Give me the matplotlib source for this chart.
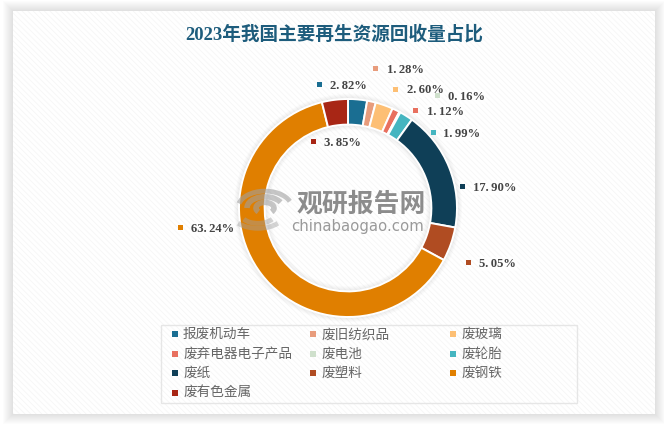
import matplotlib
matplotlib.use("Agg")
import matplotlib.pyplot as plt
from matplotlib.patches import Rectangle, Arc, Wedge

CJK = ["Noto Sans CJK SC", "DejaVu Sans"]
SERIF = ["Liberation Serif", "Noto Sans CJK SC"]

# Data
categories = ["报废机动车", "废旧纺织品", "废玻璃", "废弃电器电子产品", "废电池",
              "废轮胎", "废纸", "废塑料", "废钢铁", "废有色金属"]
values = [2.82, 1.28, 2.60, 1.12, 0.16, 1.99, 17.90, 5.05, 63.24, 3.85]
value_labels = ["2.82%", "1.28%", "2.60%", "1.12%", "0.16%",
                "1.99%", "17.90%", "5.05%", "63.24%", "3.85%"]
colors = ["#1a6e92", "#e89c7c", "#fdbf74", "#e8705f", "#cfe0cc",
          "#45b5c0", "#0f3f57", "#b04c22", "#e07f00", "#a82615"]

W, H = 664, 425
fig = plt.figure(figsize=(W / 100, H / 100), dpi=100, facecolor="white")

# Background layer, in pixel coordinates
bg = fig.add_axes([0, 0, 1, 1])
bg.set_xlim(0, W)
bg.set_ylim(H, 0)
bg.axis("off")

# Card shadow
for i in range(10, 0, -1):
    bg.add_patch(Rectangle((13 - i, 11 - i), 642 + 2 * i, 403 + 2 * i,
                           fc="#000000", ec="none", alpha=0.011))
plt.rcParams["hatch.linewidth"] = 0.6
bg.add_patch(Rectangle((13, 11), 642, 403, fc="#ffffff", ec="#f6f6f6",
                       hatch="\\\\\\\\\\\\", lw=0))

# Legend box
bg.add_patch(Rectangle((160.5, 324.5), 416, 78, fc="none", ec="#e6e6e6", lw=1))

# Ring centre
cx, cy, r_out = 348, 208, 109
ring_width = 0.235

# Soft glow on both sides of the ring
for i in range(5, 0, -1):
    bg.add_patch(Wedge((cx, cy), r_out + i, 0, 360, width=r_out * ring_width + 2 * i,
                       fc="#000000", ec="none", alpha=0.014))

# Title
bg.text(334, 34, "2023年我国主要再生资源回收量占比", family=SERIF, fontweight="bold",
        fontsize=13.4, color="#1d5c7c", ha="center", va="center")

# Donut
ax = fig.add_axes([(cx - r_out) / W, (H - cy - r_out) / H, 2 * r_out / W, 2 * r_out / H])
ax.pie(values, colors=colors, startangle=90, counterclock=False, radius=1,
       wedgeprops=dict(width=ring_width, edgecolor="white", linewidth=1.4))
ax.set_xlim(-1, 1)
ax.set_ylim(-1, 1)
ax.patch.set_alpha(0)

# Foreground layer
fg = fig.add_axes([0, 0, 1, 1])
fg.set_xlim(0, W)
fg.set_ylim(H, 0)
fg.axis("off")
fg.patch.set_alpha(0)

# Watermark
for rad, t1, t2, lw in [(27, 190, 345, 3.5), (18, 180, 340, 4), (9, 150, 390, 4)]:
    fg.add_patch(Arc((265, 208), 2 * rad, 1.25 * rad, theta1=t1, theta2=t2,
                     color="#a0a0a0", lw=lw, alpha=0.6))
for rad, t1, t2, lw in [(26, 25, 155, 3.5), (17, 20, 160, 3.5)]:
    fg.add_patch(Arc((258, 214), 2 * rad, 1.1 * rad, theta1=t1, theta2=t2,
                     color="#a0a0a0", lw=lw, alpha=0.45))
fg.text(361.5, 204, "观研报告网", family=CJK, fontweight="bold", fontsize=18.6,
        color="#808080", alpha=0.9, ha="center", va="center")
fg.text(358, 226, "chinabaogao.com", family="DejaVu Sans", fontsize=10.7,
        color="#8f8f8f", alpha=0.9, ha="center", va="center")

# Value labels: marker position, text start, in image pixels
label_pos = [(319, 84, 330, 86), (375, 68, 387, 70), (395, 89, 407, 90),
             (415, 110, 427, 112), (437, 95, 448, 97), (433, 132, 443, 134),
             (462, 186, 473, 188), (468, 262, 479, 264), (180, 227, 191, 229),
             (313, 141, 324, 143)]
for lab, col, (mx, my, tx, ty) in zip(value_labels, colors, label_pos):
    fg.text(tx, ty, lab.replace(".", ".\u2009"), family="Liberation Serif", fontweight="bold",
            fontsize=9.1, color="#444444", ha="left", va="center",
            bbox=dict(fc="white", ec="none", alpha=0.65, pad=1))
    fg.add_patch(Rectangle((mx - 2.5, my - 2.5), 5, 5, fc=col, ec="none", zorder=5))

# Legend
col_x = [175, 313, 453]
row_y = [334, 354, 373, 393]
for i, (name, col) in enumerate(zip(categories, colors)):
    x = col_x[i % 3]
    y = row_y[i // 3]
    fg.add_patch(Rectangle((x - 3, y - 3), 6, 6, fc=col, ec="none"))
    fg.text(x + 8, y, name, family=CJK, fontsize=9.8, color="#666666",
            ha="left", va="center")

fig.savefig("out.png", dpi=100)
